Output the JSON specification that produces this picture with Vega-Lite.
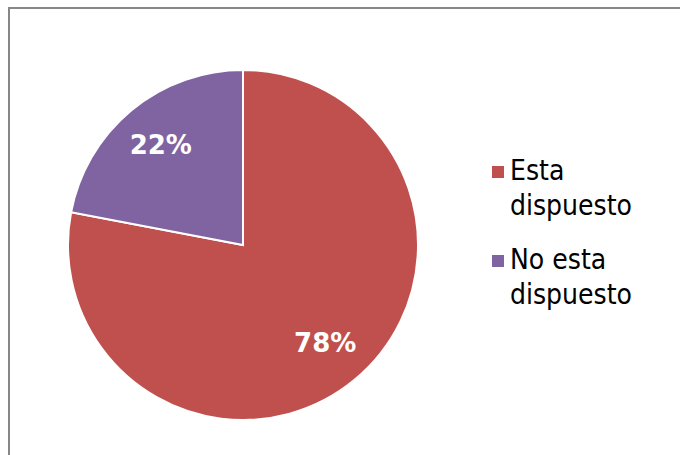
{
  "$schema": "https://vega.github.io/schema/vega-lite/v6.json",
  "width": 681,
  "height": 457,
  "autosize": {"type": "none"},
  "padding": {"left": 9, "top": 8, "right": -10, "bottom": -10},
  "background": "white",
  "config": {"view": {"stroke": null}, "style": {"guide-label": {"lineHeight": 35}}},
  "data": {
    "values": [
      {"category": "Esta dispuesto", "value": 78, "label": "78%", "rank": 1},
      {"category": "No esta dispuesto", "value": 22, "label": "22%", "rank": 2}
    ]
  },
  "layer": [
    {
      "data": {"values": [{"frame": "border"}]},
      "mark": {"type": "rect", "fill": "transparent", "stroke": "#878787", "strokeWidth": 2},
      "encoding": {}
    },
    {
      "mark": {"type": "arc", "radius": 175, "stroke": "white", "strokeWidth": 2, "xOffset": -106.5, "yOffset": 8.5},
      "encoding": {
        "theta": {"field": "value", "type": "quantitative", "stack": true},
        "order": {"field": "rank", "type": "quantitative", "sort": "ascending"},
        "color": {
          "field": "category",
          "type": "nominal",
          "scale": {"domain": ["Esta dispuesto", "No esta dispuesto"], "range": ["#C0504D", "#8064A2"]},
          "legend": {
            "orient": "none",
            "legendX": 475,
            "legendY": 150,
            "title": null,
            "padding": 0,
            "symbolType": "square",
            "symbolSize": 144,
            "symbolStrokeWidth": 0,
            "labelFont": "DejaVu Sans Condensed",
            "labelFontSize": 28,
            "labelColor": "black",
            "labelOffset": -2,
            "rowPadding": 26,
            "labelLimit": 300,
            "labelExpr": "datum.label == 'Esta dispuesto' ? ['Esta', 'dispuesto'] : ['No esta', 'dispuesto']"
          }
        }
      }
    },
    {
      "mark": {"type": "text", "radius": 129, "xOffset": -106.5, "yOffset": 8.5, "font": "DejaVu Sans", "fontWeight": "bold", "fontSize": 26, "baseline": "middle", "align": "center"},
      "encoding": {
        "theta": {"field": "value", "type": "quantitative", "stack": true},
        "order": {"field": "rank", "type": "quantitative", "sort": "ascending"},
        "text": {"field": "label"},
        "color": {"value": "white"}
      }
    }
  ]
}
